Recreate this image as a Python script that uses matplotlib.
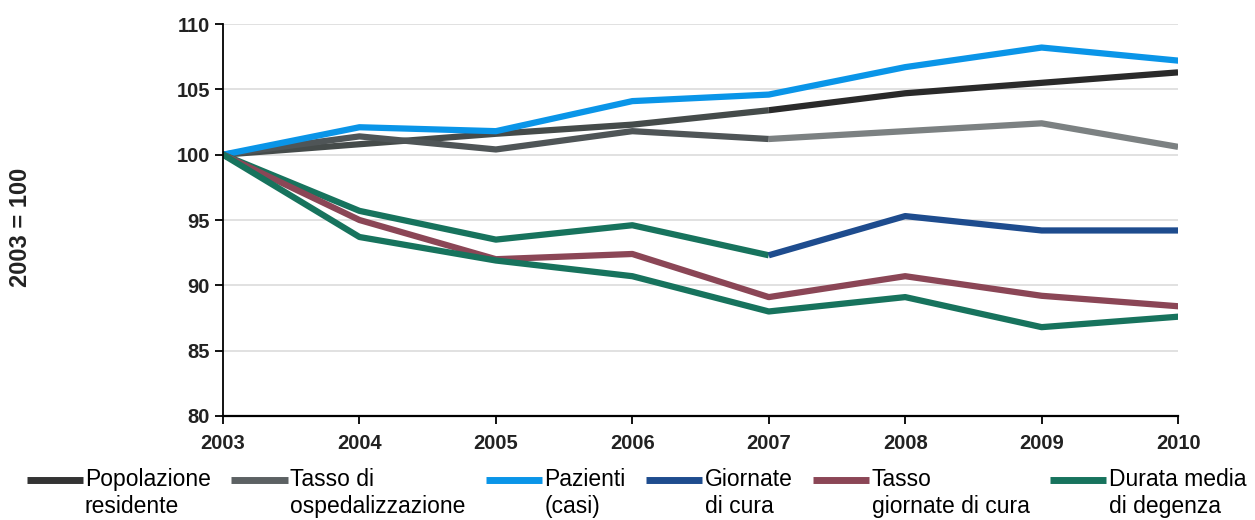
import numpy as np
import matplotlib
matplotlib.use("Agg")
import matplotlib.pyplot as plt
from matplotlib.legend_handler import HandlerLine2D

plt.rcParams['font.family'] = ['Liberation Sans', 'DejaVu Sans']

years = [2003, 2004, 2005, 2006, 2007, 2008, 2009, 2010]
popolazione = [100, 100.8, 101.6, 102.3, 103.4, 104.7, 105.5, 106.3]
tasso_osp = [100, 101.4, 100.4, 101.8, 101.2, 101.8, 102.4, 100.6]
pazienti = [100, 102.1, 101.8, 104.1, 104.6, 106.7, 108.2, 107.2]
giornate = [100, 95.7, 93.5, 94.6, 92.3, 95.3, 94.2, 94.2]
tasso_giornate = [100, 95.0, 92.0, 92.4, 89.1, 90.7, 89.2, 88.4]
durata = [100, 93.7, 91.9, 90.7, 88.0, 89.1, 86.8, 87.6]

labels = ["Popolazione\nresidente", "Tasso di\nospedalizzazione", "Pazienti\n(casi)",
          "Giornate\ndi cura", "Tasso\ngiornate di cura", "Durata media\ndi degenza"]


class TopLineHandler(HandlerLine2D):
    # put the legend line next to the first line of a two-line label
    def create_artists(self, legend, orig_handle, xdescent, ydescent,
                       width, height, fontsize, trans):
        arts = super().create_artists(legend, orig_handle, xdescent, ydescent,
                                      width, height, fontsize, trans)
        for a in arts:
            a.set_ydata(np.asarray(a.get_ydata()) + 0.6 * fontsize)
        return arts


fig = plt.figure(figsize=(12.55, 5.2), dpi=100)
ax = fig.add_axes([0.1777, 0.2, 0.761, 0.7538])

lw = 4.5
# the scan changes shade of some lines after 2007, keep that
ax.plot(years[:5], popolazione[:5], color="#454b4a", lw=lw, solid_capstyle="butt")
ax.plot(years[4:], popolazione[4:], color="#2a2a2a", lw=lw, solid_capstyle="butt")
ax.plot(years[:5], tasso_osp[:5], color="#4f5557", lw=lw, solid_capstyle="butt")
ax.plot(years[4:], tasso_osp[4:], color="#7c8182", lw=lw, solid_capstyle="butt")
ax.plot(years, pazienti, color="#0a95e8", lw=lw)
ax.plot(years[:5], giornate[:5], color="#17735d", lw=lw, solid_capstyle="butt")
ax.plot(years[4:], giornate[4:], color="#1e4c8e", lw=lw, solid_capstyle="butt")
ax.plot(years, tasso_giornate, color="#8b4656", lw=lw)
ax.plot(years, durata, color="#17735d", lw=lw)

ax.set_xlim(2003, 2010)
ax.set_ylim(80, 110)
ax.set_xticks(years)
ax.set_yticks(range(80, 111, 5))
ax.grid(axis="y", color="#dcdcdc", lw=1.2)
ax.set_axisbelow(True)
for s in ["top", "right"]:
    ax.spines[s].set_visible(False)
ax.spines["left"].set_linewidth(1.3)
ax.spines["bottom"].set_linewidth(1.6)
ax.tick_params(axis="both", length=6, width=1.3, labelsize=14.5, direction="out")
ax.tick_params(axis="x", pad=7)
for t in ax.get_xticklabels() + ax.get_yticklabels():
    t.set_fontweight("bold")
    t.set_color("#222222")

ax.set_ylabel("2003 = 100", fontsize=17, fontweight="bold", color="#222222")
ax.yaxis.set_label_coords(-0.2, 0.48)

leg_colors = ["#333333", "#5c6163", "#0a95e8", "#1e4c8e", "#8b4656", "#17735d"]
proxies = [plt.Line2D([], [], color=c, lw=5, solid_capstyle="butt") for c in leg_colors]
fig.legend(proxies, labels, loc="upper left", bbox_to_anchor=(0.012, 0.122),
           ncol=6, frameon=False, fontsize=16.5, handlelength=2.45, handletextpad=0.1,
           columnspacing=0.9, borderpad=0, labelspacing=0,
           handler_map={plt.Line2D: TopLineHandler()})

fig.savefig("out.png", dpi=100)
